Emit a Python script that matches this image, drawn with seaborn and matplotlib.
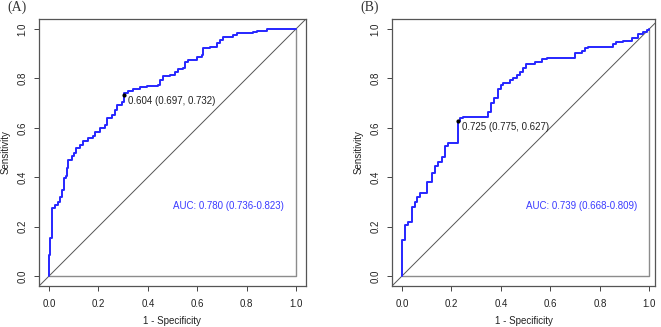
import seaborn as sns
import pandas as pd
import matplotlib
matplotlib.use('Agg')
import matplotlib.pyplot as plt

# ROC curve A (1 - specificity, sensitivity)
fpr_a = [0, 0.0054, 0.0108, 0.024, 0.038, 0.0445, 0.051, 0.061, 0.0675, 0.074, 0.078,
         0.092, 0.101, 0.109, 0.1255, 0.139, 0.159, 0.1795, 0.186, 0.206, 0.227, 0.236,
         0.254, 0.267, 0.277, 0.294, 0.303, 0.321, 0.341, 0.368, 0.395, 0.443, 0.449,
         0.463, 0.49, 0.51, 0.524, 0.544, 0.551, 0.564, 0.598, 0.618, 0.625, 0.652,
         0.679, 0.692, 0.706, 0.746, 0.76, 0.827, 0.841, 0.881, 0.90, 1.0]
tpr_a = [0, 0.085, 0.152, 0.274, 0.287, 0.30, 0.32, 0.35, 0.395, 0.405, 0.436,
         0.47, 0.484, 0.497, 0.52, 0.53, 0.545, 0.557, 0.565, 0.584, 0.598, 0.611,
         0.638, 0.652, 0.672, 0.692, 0.706, 0.740, 0.750, 0.758, 0.764, 0.770, 0.773,
         0.793, 0.81, 0.814, 0.827, 0.837, 0.84, 0.868, 0.874, 0.888, 0.895, 0.922,
         0.928, 0.942, 0.955, 0.969, 0.976, 0.985, 0.987, 0.993, 0.999, 1.0]

# ROC curve B
fpr_b = [0, 0.012, 0.023, 0.039, 0.053, 0.062, 0.073, 0.0997, 0.123, 0.133, 0.147,
         0.160, 0.174, 0.187, 0.225, 0.2345, 0.245, 0.349, 0.36, 0.372, 0.387, 0.399,
         0.41, 0.437, 0.447, 0.464, 0.477, 0.488, 0.501, 0.538, 0.565, 0.588, 0.699,
         0.726, 0.74, 0.753, 0.852, 0.864, 0.895, 0.929, 0.956, 0.976, 0.989, 1.0, 1.0]
tpr_b = [0, 0.146, 0.206, 0.22, 0.281, 0.30, 0.318, 0.337, 0.382, 0.418, 0.445,
         0.463, 0.483, 0.528, 0.537, 0.629, 0.638, 0.645, 0.665, 0.699, 0.719, 0.756,
         0.773, 0.783, 0.794, 0.803, 0.814, 0.827, 0.841, 0.857, 0.868, 0.88, 0.884,
         0.901, 0.911, 0.922, 0.928, 0.938, 0.946, 0.951, 0.964, 0.98, 0.989, 0.997, 1.0]

# best threshold points: (threshold, specificity, sensitivity)
best_a = (0.604, 0.697, 0.732)
best_b = (0.725, 0.775, 0.627)
auc_a = '0.780 (0.736-0.823)'
auc_b = '0.739 (0.668-0.809)'
ticks = [0.0, 0.2, 0.4, 0.6, 0.8, 1.0]

sns.set_theme(style='white')
plt.rcParams['font.family'] = ['Liberation Sans', 'DejaVu Sans']

fig = plt.figure(figsize=(6.61, 3.27), dpi=100)
ax_a = fig.add_axes([39/661, 1-285.7/327, 266.7/661, 266.7/327])
ax_b = fig.add_axes([392.3/661, 1-285.7/327, 262.7/661, 266.7/327])

panels = [(ax_a, fpr_a, tpr_a, best_a, auc_a, (-0.0405, 1.039), 0.318),
          (ax_b, fpr_b, tpr_b, best_b, auc_b, (-0.039, 1.023), 0.244)]

for ax, fpr, tpr, best, auc, xlim, tx in panels:
    df = pd.DataFrame({'fpr': fpr, 'tpr': tpr})
    ax.plot([-0.1, 1.1], [-0.1, 1.1], color='#555555', lw=0.7, zorder=1)
    ax.plot([0, 1, 1], [0, 0, 1], color='#8c8c8c', lw=1.0, zorder=1)
    sns.lineplot(data=df, x='fpr', y='tpr', ax=ax, estimator=None, sort=False,
                 color='#2626ff', lw=1.4, drawstyle='steps-pre', zorder=3)
    thr, spec, sens = best
    ax.plot([1 - spec], [sens], 'o', color='black', ms=2, zorder=4)
    ax.text(tx, sens - 0.022, '%.3f (%.3f, %.3f)' % (thr, spec, sens),
            ha='left', va='center', fontsize=7, color='#222222')
    ax.text(0.5, 0.285, 'AUC: ' + auc, ha='left', va='center', fontsize=7,
            color='#3b3bff')
    ax.set_xlim(*xlim)
    ax.set_ylim(-0.039, 1.04)
    ax.set_xticks(ticks)
    ax.set_yticks(ticks)
    ax.set_xticklabels(['%.1f' % t for t in ticks], fontsize=7)
    ax.set_yticklabels(['%.1f' % t for t in ticks], fontsize=7, rotation=90, va='center')
    ax.tick_params(direction='out', length=3.8, width=0.7, color='#444444',
                   bottom=True, left=True, labelcolor='#222222')
    ax.tick_params(axis='x', pad=5.5)
    ax.tick_params(axis='y', pad=4.5)
    ax.set_xlabel('1 - Specificity', fontsize=7, color='#222222', labelpad=5)
    ax.set_ylabel('Sensitivity', fontsize=7, color='#222222', labelpad=5)
    for s in ax.spines.values():
        s.set_color('#555555')
        s.set_linewidth(0.9)

fig.text(7/661, 1-7/327, '(A)', family='Liberation Serif', fontsize=10,
         color='#333333', ha='left', va='center')
fig.text(360/661, 1-7/327, '(B)', family='Liberation Serif', fontsize=10,
         color='#333333', ha='left', va='center')

fig.savefig('out.png', dpi=100)
